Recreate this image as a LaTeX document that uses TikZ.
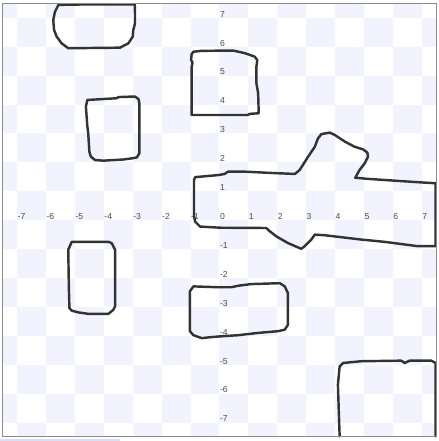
\documentclass[tikz,border=0pt]{standalone}
\usepackage{fontspec}
\setmainfont{Liberation Sans}
\definecolor{checkblue}{RGB}{243,243,255}
\definecolor{wallgray}{RGB}{51,51,51}
\definecolor{framegray}{RGB}{140,140,140}
\definecolor{stripblue}{RGB}{218,222,250}

\begin{document}
\begin{tikzpicture}[x=1cm,y=1cm,
  obstacle/.style={wallgray, line width=2.4pt, line join=round, line cap=round},
  ticklabel/.style={anchor=south west, inner sep=0.4pt, font=\fontsize{8.5}{9}\selectfont, text=black!70}]
  \useasboundingbox (-7.592,-7.640) rectangle (7.564,7.619);

  % Checkerboard (behind everything)
  \begin{scope}
    \clip (-7.5,-7.5) rectangle (7.5,7.5);
    \foreach \i in {-8,...,7} {
      \foreach \j in {-8,...,7} {
        \pgfmathparse{int(mod(\i+\j+16,2))}
        \ifnum\pgfmathresult=1
          \fill[checkblue] (\i,\j) rectangle ++(1,1);
        \fi
      }
    }
  \end{scope}

  % Axis numbers
  \foreach \k in {-7,...,7}
    \node[ticklabel] (xnum\k) at (\k,0) {\k};
  \foreach \k in {-7,-6,-5,-4,-3,-2,-1,1,2,3,4,5,6,7}
    \node[ticklabel] (ynum\k) at (0,\k) {\k};

  % Obstacles
  \draw[obstacle] (-5.57,7.45) -- (-4.4,7.47) -- (-2.93,7.47) -- (-2.92,7.1)
    -- (-2.92,6.81) -- (-2.98,6.58) -- (-3.00,6.35) -- (-3.15,6.12) -- (-3.44,5.97)
    -- (-5.23,5.95) -- (-5.46,6.12) -- (-5.63,6.35) -- (-5.72,6.58) -- (-5.75,6.93)
    -- (-5.69,7.21) -- cycle;
  \draw[obstacle] (-4.57,4.16) -- (-3.55,4.22) -- (-3.50,4.26) -- (-2.92,4.28)
    -- (-2.80,4.19) -- (-2.77,4.05) -- (-2.77,2.31) -- (-2.86,2.17) -- (-3.03,2.14)
    -- (-3.32,2.10) -- (-4.02,2.06) -- (-4.30,2.08) -- (-4.45,2.20) -- (-4.50,2.37)
    -- (-4.54,3.02) -- (-4.57,3.25) -- (-4.62,3.93) -- cycle;
  \draw[obstacle] (-0.90,5.83) -- (-0.6,5.86) -- (0.47,5.87) -- (0.88,5.78)
    -- (1.22,5.66) -- (1.31,5.54) -- (1.28,5.31) -- (1.28,4.74) -- (1.34,4.39)
    -- (1.36,3.70) -- (1.05,3.68) -- (0.98,3.64) -- (-0.96,3.64) -- (-0.96,5.30)
    -- (-0.93,5.45) -- (-0.98,5.55) -- (-0.96,5.75) -- cycle;
  \draw[obstacle] (-0.84,1.49) -- (-0.05,1.56) -- (0.18,1.60) -- (0.30,1.68)
    -- (0.88,1.68) -- (1.68,1.64) -- (2.61,1.60) -- (2.78,1.74) -- (3.07,2.20)
    -- (3.30,2.54) -- (3.41,2.83) -- (3.53,2.98) -- (3.82,3.03) -- (3.99,2.95)
    -- (4.34,2.72) -- (4.68,2.54) -- (4.97,2.45) -- (5.12,2.34) -- (5.14,2.20)
    -- (5.03,1.97) -- (4.85,1.74) -- (4.70,1.47) -- (5.14,1.43) -- (6.18,1.36)
    -- (7.10,1.30) -- (7.48,1.28) -- (7.48,-0.90) -- (6.87,-0.90) -- (5.72,-0.75)
    -- (4.91,-0.67) -- (3.64,-0.52) -- (3.30,-0.50) -- (3.18,-0.67) -- (2.95,-0.90)
    -- (2.83,-0.99) -- (2.37,-0.79) -- (1.97,-0.56) -- (1.74,-0.38) -- (1.62,-0.27)
    -- (0.02,-0.26) -- (-0.67,-0.22) -- (-0.84,-0.05) -- (-0.88,0.15)
    -- (-0.88,1.39) -- cycle;
  \draw[obstacle] (-5.11,-0.75) -- (-3.84,-0.75) -- (-3.73,-0.79) -- (-3.61,-1.02)
    -- (-3.61,-2.98) -- (-3.67,-3.10) -- (-3.84,-3.24) -- (-4.54,-3.24)
    -- (-4.88,-3.19) -- (-5.11,-3.13) -- (-5.19,-3.04) -- (-5.21,-2.30)
    -- (-5.23,-1.02) -- cycle;
  \draw[obstacle] (-0.90,-2.29) -- (-0.05,-2.32) -- (0.41,-2.32) -- (0.64,-2.27)
    -- (1.10,-2.21) -- (2.09,-2.18) -- (2.26,-2.29) -- (2.37,-2.52) -- (2.37,-3.62)
    -- (2.26,-3.79) -- (2.03,-3.84) -- (1.34,-3.90) -- (0.64,-3.98) -- (0.02,-4.02)
    -- (-0.33,-4.05) -- (-0.61,-4.08) -- (-0.90,-3.98) -- (-1.02,-3.84)
    -- (-1.02,-2.46) -- cycle;
  \draw[obstacle] (4.16,-7.48) -- (4.10,-5.69) -- (4.16,-5.06) -- (4.28,-4.94)
    -- (4.91,-4.88) -- (6.29,-4.86) -- (6.41,-4.94) -- (6.58,-4.86) -- (7.33,-4.86)
    -- (7.48,-4.94) -- (7.48,-7.48);

  % Frame and strip
  \draw[framegray, line width=1pt] (-7.5,-7.5) rectangle (7.5,7.5);
  \fill[stripblue] (-7.592,-7.640) rectangle ++(4.15,0.07);
\end{tikzpicture}
\end{document}
